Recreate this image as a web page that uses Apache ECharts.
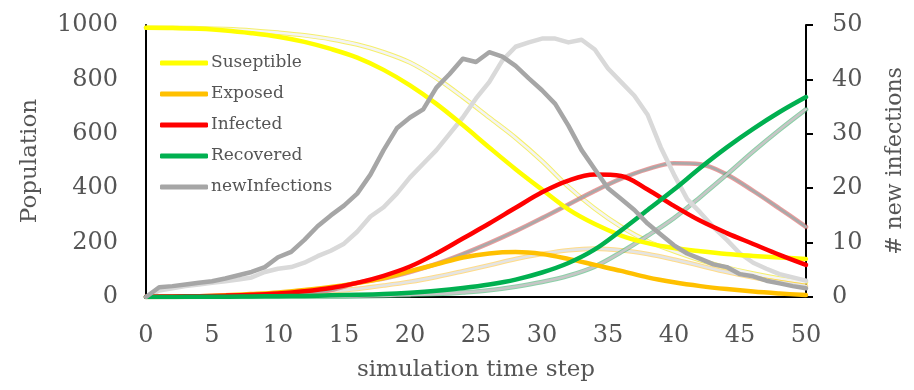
<!DOCTYPE html>
<html>
<head>
<meta charset="utf-8">
<script src="https://cdn.jsdelivr.net/npm/echarts@6/dist/echarts.min.js"></script>
<style>
  html, body { margin: 0; padding: 0; background: #ffffff; }
  #chart { width: 914px; height: 390px; }
</style>
</head>
<body>
<div id="chart"></div>
<script>
// Time steps for the smooth compartment curves (every 2nd step)
const steps2 = [0,2,4,6,8,10,12,14,16,18,20,22,24,26,28,30,32,34,36,38,40,42,44,46,48,50];
// Time steps for the new-infection counts (every step)
const steps1 = Array.from({ length: 51 }, (_, i) => i);

// Run A (bold lines)
const susceptibleA = [990,989,986,980,970,957,938,912,880,835,778,710,632,550,470,395,322,268,226,198,180,168,158,151,145,140];
const exposedA     = [0,1,3,6,11,17,26,37,51,70,95,120,145,160,165,158,140,118,96,72,54,40,29,20,13,7];
const infectedA    = [1,2,3,5,8,13,21,33,52,78,112,160,215,270,328,385,428,450,445,395,335,280,235,195,155,118];
const recoveredA   = [0,0,1,1,2,3,4,6,8,11,16,23,33,46,64,90,125,175,245,320,395,475,550,618,680,735];
const newInfA = [0,1.8,2.0,2.3,2.6,2.9,3.4,4.0,4.6,5.5,7.3,8.3,10.5,13.0,15.0,16.8,19.0,22.5,27.0,31.0,
                 33.0,34.5,38.5,41.0,43.8,43.2,45.0,44.2,42.5,40.2,38.0,35.5,31.5,27.0,23.5,20.0,18.0,16.0,13.5,11.5,
                 9.5,8.0,7.0,6.0,5.5,4.2,3.8,3.0,2.5,2.0,1.6];

// Run B (faded lines)
const susceptibleB = [990,990,988,985,980,972,962,948,928,900,862,805,735,660,585,500,405,325,258,205,168,135,108,86,68,54];
const exposedB     = [0,0,1,3,5,9,14,21,30,42,56,74,95,117,140,158,172,178,172,158,138,115,92,72,55,40];
const infectedB    = [1,1,2,4,6,10,16,26,52,68,92,122,158,198,242,290,340,390,435,470,492,488,450,390,325,258];
const recoveredB   = [0,0,0,0,0,0,0,1,2,4,7,11,17,25,38,55,78,112,165,225,290,368,450,535,615,690];
const newInfB = [0,1.2,1.6,2.0,2.3,2.6,2.9,3.2,3.6,4.6,5.2,5.5,6.3,7.5,8.5,9.8,12.0,14.8,16.5,19.0,
                 22.0,24.5,27.0,30.0,33.0,36.5,39.5,43.5,46.0,46.8,47.5,47.5,46.8,47.3,45.5,42.0,39.5,37.0,33.5,27.5,
                 22.5,18.0,15.5,12.8,10.5,8.0,6.3,5.2,4.2,3.6,3.0];

const legendNames = ['Suseptible', 'Exposed', 'Infected', 'Recovered', 'newInfections'];

const FONT = 'DejaVu Serif';
const TEXT = '#555555';

function pairs(xs, ys) { return xs.map((x, i) => [x, ys[i]]); }

function line(name, xs, ys, color, width, yAxisIndex, opacity) {
  return {
    name: name,
    type: 'line',
    yAxisIndex: yAxisIndex || 0,
    data: pairs(xs, ys),
    smooth: xs === steps2 ? 0.35 : false,
    showSymbol: false,
    symbol: 'none',
    silent: true,
    color: color,
    lineStyle: { color: color, width: width, opacity: opacity == null ? 1 : opacity, cap: 'round', join: 'round' },
    z: 2
  };
}

// Faded run: thin coloured rim around a grey core
function rimmed(name, xs, ys, rim, rimOpacity, core) {
  return [
    line(name + ' B', xs, ys, rim, 4.6, 0, rimOpacity),
    line(name + ' B core', xs, ys, core, 2.6, 0, 1)
  ];
}

const series = [
  ...rimmed('Suseptible', steps2, susceptibleB, '#f2ea3a', 0.75, '#f4f4f4'),
  ...rimmed('Exposed', steps2, exposedB, '#ffc43a', 0.6, '#e4e4e4'),
  ...rimmed('Infected', steps2, infectedB, '#e05858', 0.6, '#a9a9a9'),
  ...rimmed('Recovered', steps2, recoveredB, '#3fb06e', 0.6, '#c6c6c6'),
  line('newInfections B', steps1, newInfB, '#d9d9d9', 4.5, 1),
  line('Suseptible', steps2, susceptibleA, '#ffff00', 4.5),
  line('Exposed', steps2, exposedA, '#ffc000', 4.5),
  line('Infected', steps2, infectedA, '#ff0000', 4.5),
  line('Recovered', steps2, recoveredA, '#00b050', 4.5),
  line('newInfections', steps1, newInfA, '#a6a6a6', 4.5, 1)
];

const chart = echarts.init(document.getElementById('chart'), null, { renderer: 'canvas' });
chart.setOption({
  animation: false,
  backgroundColor: '#ffffff',
  textStyle: { fontFamily: FONT, color: TEXT },
  grid: { left: 146, right: 103, top: 25, bottom: 93, containLabel: false },
  legend: {
    data: legendNames,
    orient: 'vertical',
    left: 155,
    top: 48,
    icon: 'roundRect',
    itemWidth: 48,
    itemHeight: 5,
    itemGap: 11,
    selectedMode: false,
    textStyle: { fontFamily: FONT, fontSize: 17, color: TEXT, lineHeight: 20, padding: [0, 0, 0, -2] }
  },
  xAxis: {
    type: 'value',
    min: 0, max: 50, interval: 5,
    name: 'simulation time step',
    nameLocation: 'middle',
    nameGap: 62,
    nameTextStyle: { fontFamily: FONT, fontSize: 23, color: TEXT },
    axisLine: { lineStyle: { color: '#000000', width: 2 } },
    axisTick: { show: false },
    splitLine: { show: false },
    axisLabel: { fontFamily: FONT, fontSize: 24, color: TEXT, margin: 27 }
  },
  yAxis: [
    {
      type: 'value',
      min: 0, max: 1000, interval: 200,
      name: 'Population',
      nameLocation: 'middle',
      nameGap: 104,
      nameTextStyle: { fontFamily: FONT, fontSize: 23, color: TEXT },
      axisLine: { show: true, lineStyle: { color: '#000000', width: 2 } },
      axisTick: { show: false },
      splitLine: { show: false },
      axisLabel: { fontFamily: FONT, fontSize: 24, color: TEXT, margin: 28, formatter: v => String(v) }
    },
    {
      type: 'value',
      min: 0, max: 50, interval: 10,
      position: 'right',
      name: '# new infections',
      nameLocation: 'middle',
      nameGap: 78,
      nameTextStyle: { fontFamily: FONT, fontSize: 22, color: TEXT },
      axisLine: { show: true, lineStyle: { color: '#000000', width: 2 } },
      axisTick: { show: true, inside: false, length: 7, lineStyle: { color: '#000000', width: 2 } },
      splitLine: { show: false },
      axisLabel: { fontFamily: FONT, fontSize: 24, color: TEXT, margin: 26, formatter: v => String(v) }
    }
  ],
  series: series
});
</script>
</body>
</html>
